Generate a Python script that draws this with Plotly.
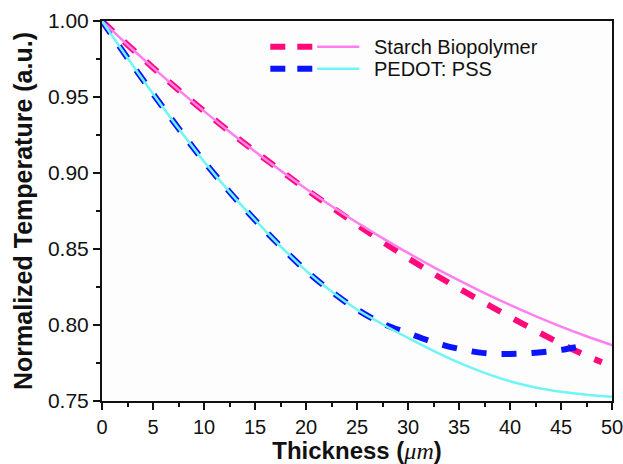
import plotly.graph_objects as go

# ---- data ----
thickness = [0, 2.5, 5, 7.5, 10, 12.5, 15, 17.5, 20, 22.5, 25, 27.5, 30,
             32.5, 35, 37.5, 40, 42.5, 45, 47.5, 50]

starch_solid = [1.000, 0.9844, 0.9693, 0.9547, 0.9407, 0.9272, 0.9142, 0.9017,
                0.8897, 0.8783, 0.8674, 0.8572, 0.8474, 0.8381, 0.8293, 0.8210,
                0.8132, 0.8058, 0.7989, 0.7926, 0.7868]

starch_dash_x = [0, 2.5, 5, 7.5, 10, 12.5, 15, 17.5, 20, 22.5, 25, 27.5, 30,
                 32.5, 35, 37.5, 40, 42.5, 45, 47.5, 49]
starch_dash = [1.000, 0.9844, 0.9693, 0.9547, 0.9407, 0.9272, 0.9142, 0.9017,
               0.8893, 0.8775, 0.8660, 0.8548, 0.8440, 0.8337, 0.8240, 0.8145,
               0.8053, 0.7963, 0.7877, 0.7798, 0.7755]

pedot_solid = [1.000, 0.9757, 0.9522, 0.9294, 0.9076, 0.8876, 0.8691, 0.8518,
               0.8358, 0.8220, 0.8102, 0.8005, 0.7915, 0.7830, 0.7752, 0.7685,
               0.7630, 0.7589, 0.7561, 0.7541, 0.7528]

pedot_dash_x = [0, 2.5, 5, 7.5, 10, 12.5, 15, 17.5, 20, 22.5, 25, 27.5, 30,
                32.5, 35, 37.5, 40, 42.5, 45, 47.5]
pedot_dash = [1.000, 0.9757, 0.9522, 0.9294, 0.9076, 0.8876, 0.8691, 0.8518,
              0.8358, 0.8220, 0.8102, 0.8010, 0.7947, 0.7887, 0.7843, 0.7815,
              0.7810, 0.7818, 0.7836, 0.7868]

series_names = ["Starch Biopolymer", "PEDOT: PSS"]
y_ticks = [0.75, 0.80, 0.85, 0.90, 0.95, 1.00]
x_ticks = [0, 5, 10, 15, 20, 25, 30, 35, 40, 45, 50]

PINK_D = "#ff0a78"
PINK_S = "#ff7ff0"
BLUE_D = "#0a14ff"
CYAN_S = "#6ff5f5"
FONT = "Liberation Sans, Arial, sans-serif"

fig = go.Figure()
fig.add_trace(go.Scatter(x=starch_dash_x, y=starch_dash, mode="lines",
                         line=dict(color=PINK_D, width=6, dash="15px,15px", shape="spline"),
                         showlegend=False))
fig.add_trace(go.Scatter(x=pedot_dash_x, y=pedot_dash, mode="lines",
                         line=dict(color=BLUE_D, width=6, dash="15px,15px", shape="spline"),
                         showlegend=False))
fig.add_trace(go.Scatter(x=thickness, y=starch_solid, mode="lines",
                         line=dict(color=PINK_S, width=2.5, shape="spline"), showlegend=False))
fig.add_trace(go.Scatter(x=thickness, y=pedot_solid, mode="lines",
                         line=dict(color=CYAN_S, width=2.5, shape="spline"), showlegend=False))

# ---- manual legend (dashed + solid sample per entry) ----
legend_rows = [(0.9324, PINK_D, PINK_S, series_names[0]),
               (0.8745, BLUE_D, CYAN_S, series_names[1])]
shapes = []
annotations = []
for yy, cd, cs, name in legend_rows:
    shapes.append(dict(type="line", xref="paper", yref="paper",
                       x0=0.330, x1=0.4124, y0=yy, y1=yy,
                       line=dict(color=cd, width=6, dash="15px,12px")))
    shapes.append(dict(type="line", xref="paper", yref="paper",
                       x0=0.4218, x1=0.5045, y0=yy, y1=yy,
                       line=dict(color=cs, width=2.5)))
    annotations.append(dict(xref="paper", yref="paper", x=0.530, y=yy,
                            xanchor="left", yanchor="middle", showarrow=False,
                            text=name, font=dict(family=FONT, size=20, color="#111")))

fig.update_layout(
    width=623, height=464,
    margin=dict(l=102, r=11, t=21, b=63, autoexpand=False),
    paper_bgcolor="white", plot_bgcolor="#fdfdfd",
    font=dict(family=FONT, size=20, color="#111"),
    shapes=shapes, annotations=annotations,
    showlegend=False,
)
fig.update_xaxes(
    range=[0, 50], tickvals=x_ticks, ticks="outside", ticklen=7, tickwidth=1.5,
    tickcolor="#111", showline=True, linecolor="#111", linewidth=2, mirror=True,
    showgrid=False, zeroline=False, automargin=False, ticklabeloverflow="allow",
    minor=dict(dtick=2.5, ticks="outside", ticklen=4, tickwidth=1.5, tickcolor="#111", showgrid=False),
    tickfont=dict(size=20),
    title=dict(text="<b>Thickness (</b><span style=\"font-family:'Liberation Serif';font-style:italic\">μm</span><b>)</b>",
               font=dict(size=24), standoff=9),
)
fig.update_yaxes(
    range=[0.75, 1.0], tickvals=y_ticks, tickformat=".2f", ticks="outside",
    ticklen=7, tickwidth=1.5, tickcolor="#111", showline=True, linecolor="#111",
    linewidth=2, mirror=True, showgrid=False, zeroline=False, automargin=False,
    ticklabeloverflow="allow",
    minor=dict(dtick=0.025, ticks="outside", ticklen=4, tickwidth=1.5, tickcolor="#111", showgrid=False),
    tickfont=dict(size=21),
    title=dict(text="<b>Normalized Temperature (a.u.)</b>", font=dict(size=25), standoff=8),
)

fig.write_html("out.html", config={"displayModeBar": False},
               post_script="document.body.style.margin='0';document.body.style.overflow='hidden';")
